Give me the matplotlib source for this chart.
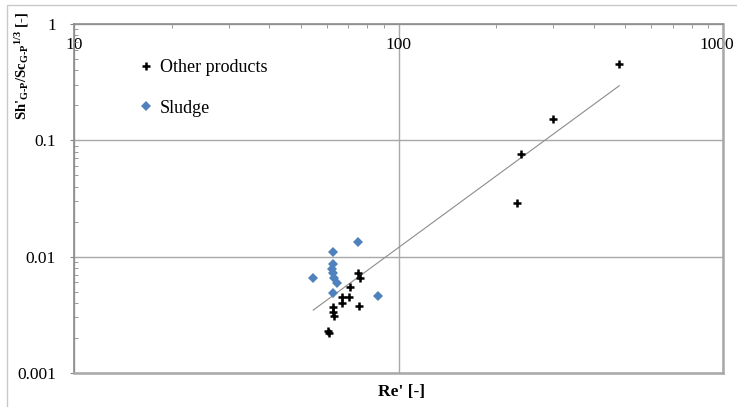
import numpy as np
import matplotlib
matplotlib.use('Agg')
import matplotlib.pyplot as plt
import matplotlib.transforms as mtransforms
from matplotlib.patches import Rectangle
from matplotlib.ticker import LogLocator, NullFormatter

plt.rcParams['font.family'] = ['Liberation Serif', 'DejaVu Serif']
plt.rcParams['mathtext.fontset'] = 'custom'
plt.rcParams['mathtext.rm'] = 'Liberation Serif:bold'
plt.rcParams['mathtext.it'] = 'Liberation Serif:bold'
plt.rcParams['mathtext.bf'] = 'Liberation Serif:bold'

# ---- data ----
other_re = [479, 300, 238.5, 231.4, 75.2, 76.1, 70.9, 67.1, 70.5, 66.8,
            75.6, 62.7, 62.7, 63.1, 61.1, 60.6]
other_sh = [0.453, 0.1535, 0.0763, 0.0291, 0.00719, 0.00652, 0.00552,
            0.00453, 0.00453, 0.0040, 0.0038, 0.00369, 0.00336, 0.00307,
            0.00221, 0.00228]

sludge_re = [75.2, 62.8, 62.7, 62.4, 63.0, 63.4, 64.5, 54.6, 63.0, 86.3]
sludge_sh = [0.01329, 0.01103, 0.0086, 0.0079, 0.00728, 0.00652, 0.0059,
             0.00656, 0.0049, 0.00462]

# power trendline y = a * x^b
trend_a = 9.73e-7
trend_b = 2.045

x_ticks = [10, 100, 1000]
x_tick_labels = ['10', '100', '1000']
y_ticks = [0.001, 0.01, 0.1, 1]
y_tick_labels = ['0.001', '0.01', '0.1', '1']

# ---- figure ----
fig = plt.figure(figsize=(7.37, 4.07), dpi=100)
ax = fig.add_axes([74 / 737, 1 - 373 / 407, 649 / 737, 349 / 407])

# outer frame around the chart
fig.patches.append(Rectangle((7 / 737, -0.05), 1.1, 1.05 - 5 / 407,
                             transform=fig.transFigure, fill=False,
                             edgecolor='#c8c8c8', lw=1.0, zorder=0))

ax.set_xscale('log')
ax.set_yscale('log')
ax.set_xlim(10, 1000)
ax.set_ylim(0.001, 1)

ax.grid(True, which='major', color='#a8a8a8', lw=1.0, zorder=0)

all_re = np.array(other_re + sludge_re)
xt = np.array([all_re.min(), all_re.max()])
ax.plot(xt, trend_a * xt ** trend_b, color='#8c8c8c', lw=0.8, zorder=2)

ax.plot(other_re, other_sh, ls='none', marker='+', ms=6, mew=1.8,
        color='black', label='Other products', zorder=4)
ax.plot(sludge_re, sludge_sh, ls='none', marker='D', ms=5.5, mew=0,
        color='#4f81bd', label='Sludge', zorder=3)

# x axis sits on top, labels inside the plot area
ax.xaxis.set_ticks_position('top')
ax.set_xticks(x_ticks, x_tick_labels)
ax.xaxis.set_minor_locator(LogLocator(base=10, subs=np.arange(2, 10)))
ax.xaxis.set_minor_formatter(NullFormatter())
ax.tick_params(axis='x', which='major', length=0, pad=-21, labelsize=12.5)
ax.tick_params(axis='x', which='minor', direction='in', length=3,
               color='#888888')

# nudge the last x label so it stays inside the image
last = ax.xaxis.get_major_ticks()[-1].label2
last.set_transform(last.get_transform() +
                   mtransforms.ScaledTranslation(-6 / 100, 0, fig.dpi_scale_trans))

ax.set_yticks(y_ticks, y_tick_labels)
ax.yaxis.set_minor_locator(LogLocator(base=10, subs=np.arange(2, 10)))
ax.yaxis.set_minor_formatter(NullFormatter())
ax.tick_params(axis='y', which='major', direction='out', length=3, pad=10,
               labelsize=12.5, color='#888888')
ax.tick_params(axis='y', which='minor', direction='in', length=3,
               color='#888888')

for s in ax.spines.values():
    s.set_color('#8c8c8c')
    s.set_linewidth(1.2)
ax.spines['bottom'].set_color('#a8a8a8')
ax.spines['bottom'].set_linewidth(1.8)
ax.spines['right'].set_color('#a8a8a8')
ax.spines['right'].set_linewidth(1.8)

leg = ax.legend(loc='upper left', bbox_to_anchor=(0.088, 0.925),
                frameon=False, fontsize=13, handlelength=0.6,
                handletextpad=0.5, labelspacing=1.3, borderpad=0)

fig.text(402 / 737, 1 - 392 / 407, "Re' [-]", fontsize=12.5,
         fontweight='bold', ha='center', va='center')
fig.text(22 / 737, 1 - 66 / 407,
         r"$\text{Sh'}_{\text{G-P}}/\text{Sc}_{\text{G-P}}{}^{\text{1/3}}$ [-]",
         fontsize=10.5, fontweight='bold', rotation=90, ha='center',
         va='center')

fig.savefig('out.png', dpi=100)
